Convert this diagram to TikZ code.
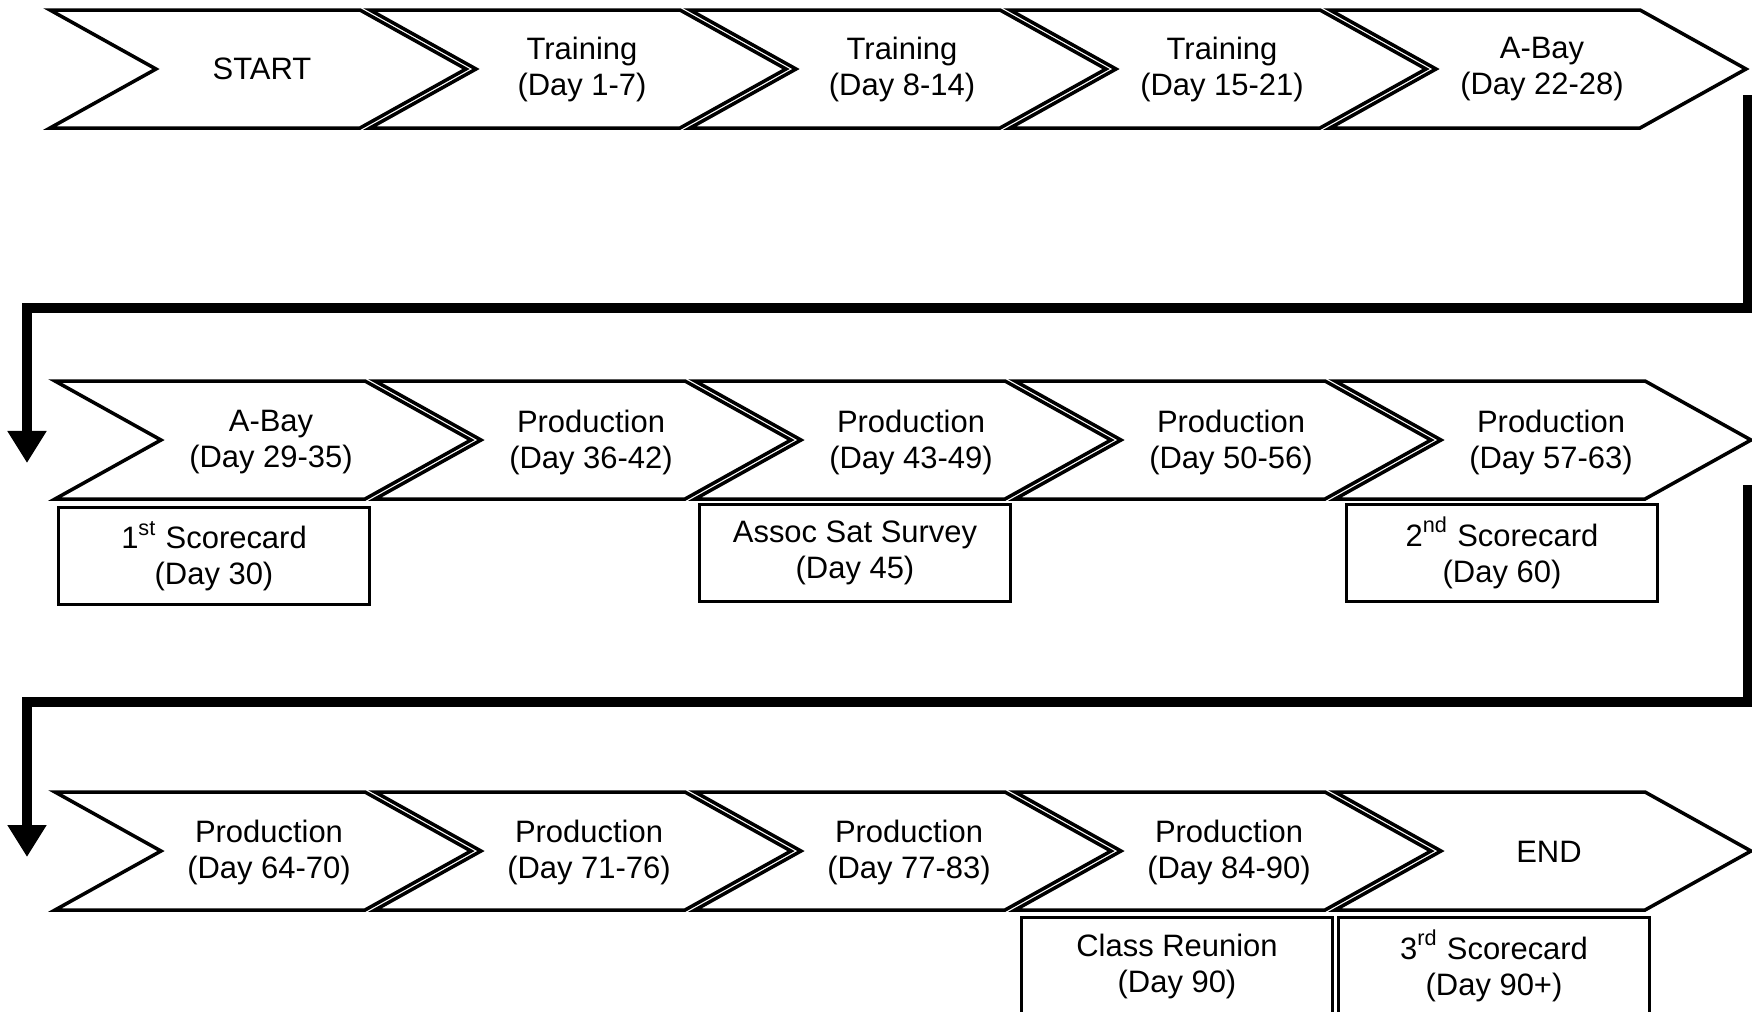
\documentclass[tikz,border=0pt]{standalone}
\usepackage{fontspec}
\setmainfont{Liberation Sans}
\usetikzlibrary{arrows.meta}

\begin{document}
\begin{tikzpicture}[x=0.01cm,y=-0.01cm,
    stage/.style={draw=black,line width=1pt,fill=white},
    lbl/.style={align=center,inner sep=0pt,font=\fontsize{8.8}{10.24}\selectfont},
    event/.style={lbl,draw=black,line width=1pt,fill=white,minimum width=3.11cm,minimum height=0.97cm},
    wrap/.style={line width=0.1cm,-{Triangle[width=0.37cm,length=0.32cm]}}]

    % 画布
    \useasboundingbox[fill=white] (0,0) rectangle (1752,1011);

    % 第一行
    \foreach \txt [count=\i from 0] in {START,{Training\\(Day 1-7)},{Training\\(Day 8-14)},{Training\\(Day 15-21)},{A-Bay\\(Day 22-28)}} {
        \draw[stage] (50+320*\i,10) -- ++(310,0) -- ++(106,59) -- ++(-106,59) -- ++(-310,0) -- ++(106,-59) -- cycle;
        \node[lbl] (a\i) at (50+320*\i+212,69) {\txt};
    }

    % 第二行
    \foreach \txt [count=\i from 0] in {{A-Bay\\(Day 29-35)},{Production\\(Day 36-42)},{Production\\(Day 43-49)},{Production\\(Day 50-56)},{Production\\(Day 57-63)}} {
        \draw[stage] (55+320*\i,381) -- ++(310,0) -- ++(106,59) -- ++(-106,59) -- ++(-310,0) -- ++(106,-59) -- cycle;
        \node[lbl] (b\i) at (55+320*\i+216,442) {\txt};
    }

    % 第三行
    \foreach \txt [count=\i from 0] in {{Production\\(Day 64-70)},{Production\\(Day 71-76)},{Production\\(Day 77-83)},{Production\\(Day 84-90)},END} {
        \draw[stage] (55+320*\i,792) -- ++(310,0) -- ++(106,59) -- ++(-106,59) -- ++(-310,0) -- ++(106,-59) -- cycle;
        \node[lbl] (c\i) at (55+320*\i+214,852) {\txt};
    }

    % 事件框
    \node[event] (sc1) at (214,556) {1\textsuperscript{st} Scorecard\\(Day 30)};
    \node[event] (survey) at (855,553) {Assoc Sat Survey\\(Day 45)};
    \node[event] (sc2) at (1502,553) {2\textsuperscript{nd} Scorecard\\(Day 60)};
    \node[event] (reunion) at (1177,966) {Class Reunion\\(Day 90)};
    \node[event] (sc3) at (1494,966) {3\textsuperscript{rd} Scorecard\\(Day 90+)};

    % 换行箭头
    \coordinate (wrapA) at (1748,95);
    \coordinate (wrapAend) at (27,463);
    \coordinate (wrapB) at (1748,485);
    \coordinate (wrapBend) at (27,857);
    \draw[wrap] (wrapA) -- ++(0,213) -| (wrapAend);
    \draw[wrap] (wrapB) -- ++(0,217) -| (wrapBend);

\end{tikzpicture}
\end{document}
